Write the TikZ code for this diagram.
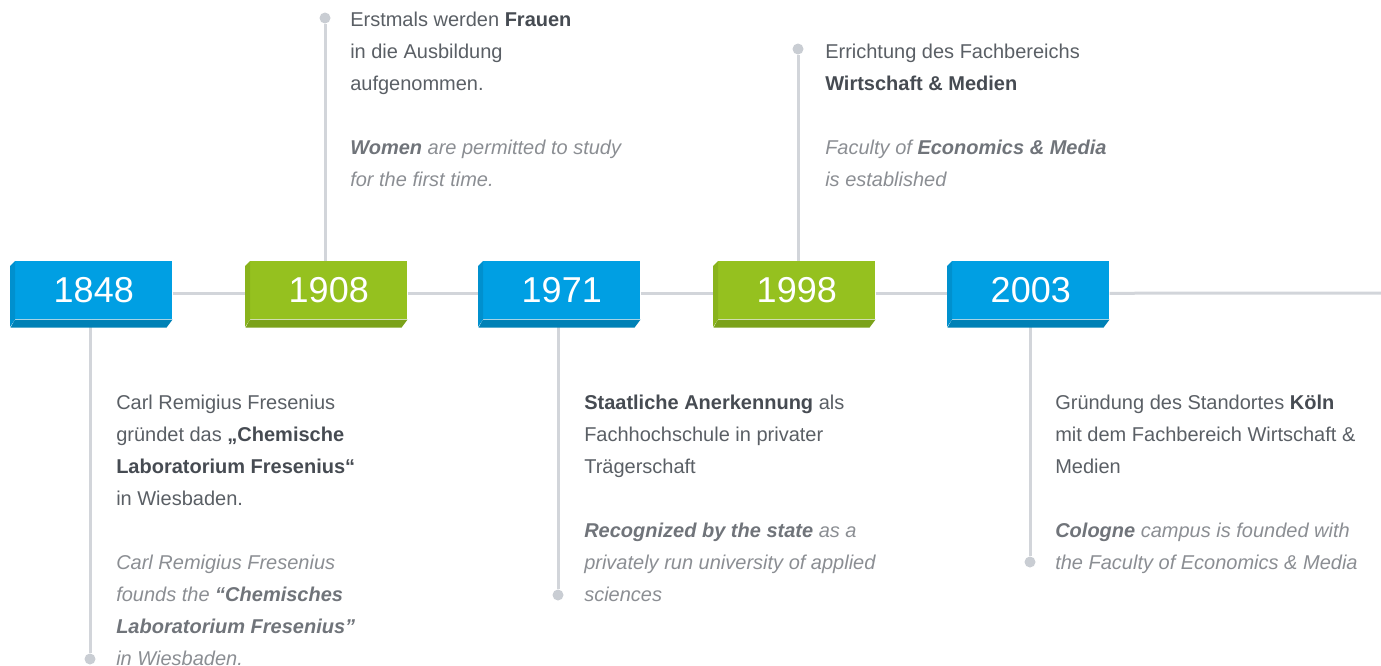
\documentclass[tikz,border=0pt]{standalone}
\usepackage{fontspec}
\setmainfont{Liberation Sans}
\usetikzlibrary{backgrounds}
\definecolor{bluefront}{HTML}{009FE3}
\definecolor{blueleft}{HTML}{0090CE}
\definecolor{bluebot}{HTML}{0081B6}
\definecolor{greenfront}{HTML}{95C11F}
\definecolor{greenleft}{HTML}{89B31C}
\definecolor{greenbot}{HTML}{7BA21A}
\definecolor{linegray}{HTML}{D2D5DA}
\definecolor{dotgray}{HTML}{C9CDD3}
\definecolor{gertext}{HTML}{5A5F65}
\definecolor{gerbold}{HTML}{464B52}
\definecolor{engtext}{HTML}{8B8E93}
\definecolor{engbold}{HTML}{70747A}
\newcommand\gb[1]{{\bfseries\color{gerbold}#1}}
\newcommand\eb[1]{{\bfseries\color{engbold}#1}}
\tikzset{
  yearface/.style={rectangle, inner sep=0pt, minimum width=157*0.75pt, minimum height=58*0.75pt,
    text=white, font=\fontsize{27}{27}\selectfont, anchor=north west},
  ger/.style={anchor=base west, inner sep=0pt, text=gertext, font=\fontsize{15}{24}\selectfont},
  eng/.style={anchor=base west, inner sep=0pt, text=engtext, font=\fontsize{15}{24}\selectfont\itshape},
  tl/.style={draw=linegray, line width=3*0.75pt},
  dotnode/.style={circle, fill=dotgray, inner sep=0pt, minimum size=11*0.75pt},
}
\newcommand\yearbox[6]{%
  \node[yearface, fill=#3] (#1) at (#2+5,261) {\raisebox{0pt}{#6}};
  \begin{scope}[on background layer]
  \end{scope}
}
\newcommand\yearsides[3]{%
  \fill[#2] (#1.north west) -- ++(-5,5) -- ++(0,61) -- (#1.south west) -- cycle;
  \fill[#3] (#1.south west) -- (#1.south east) -- ++(-6,8) -- ++(-156,0) -- cycle;
}
\begin{document}
\begin{tikzpicture}[x=0.75pt,y=-0.75pt]
\useasboundingbox (0,0) rectangle (1381,665);
% year boxes (front faces)
\yearbox{y1848}{10}{bluefront}{}{}{1848}
\yearbox{y1908}{245}{greenfront}{}{}{1908}
\yearbox{y1971}{478}{bluefront}{}{}{1971}
\yearbox{y1998}{713}{greenfront}{}{}{1998}
\yearbox{y2003}{947}{bluefront}{}{}{2003}
\coordinate (tlend) at (1381,293);
% dots
\node[dotnode] (d1848) at (90,659) {};
\node[dotnode] (d1908) at (325,18) {};
\node[dotnode] (d1971) at (558,595) {};
\node[dotnode] (d1998) at (798,49) {};
\node[dotnode] (d2003) at (1030,562) {};
% timeline
\draw[tl] ([yshift=-3*0.75pt]y1848.east) -- ([yshift=-3*0.75pt]y1908.west);
\draw[tl] ([yshift=-3*0.75pt]y1908.east) -- ([yshift=-3*0.75pt]y1971.west);
\draw[tl] ([yshift=-3*0.75pt]y1971.east) -- ([yshift=-3*0.75pt]y1998.west);
\draw[tl] ([yshift=-3*0.75pt]y1998.east) -- ([yshift=-3*0.75pt]y2003.west);
\draw[tl] ([yshift=-3*0.75pt]y2003.east) -- (tlend);
% verticals
\draw[tl] (y1848.south -| d1848) -- (d1848);
\draw[tl] (y1908.north -| d1908) -- (d1908);
\draw[tl] (y1971.south -| d1971) -- (d1971);
\draw[tl] (y1998.north -| d1998) -- (d1998);
\draw[tl] (y2003.south -| d2003) -- (d2003);
% box sides
\yearsides{y1848}{blueleft}{bluebot}
\yearsides{y1908}{greenleft}{greenbot}
\yearsides{y1971}{blueleft}{bluebot}
\yearsides{y1998}{greenleft}{greenbot}
\yearsides{y2003}{blueleft}{bluebot}
% 1848 text
\node[ger] (a1) at (116,409) {Carl Remigius Fresenius};
\node[ger] (a2) at (116,441) {gründet das \gb{„Chemische}};
\node[ger] (a3) at (116,473) {\gb{Laboratorium Fresenius“}};
\node[ger] (a4) at (116,505) {in Wiesbaden.};
\node[eng] (a5) at (116,569) {Carl Remigius Fresenius};
\node[eng] (a6) at (116,601) {founds the \eb{“Chemisches}};
\node[eng] (a7) at (116,633) {\eb{Laboratorium Fresenius”}};
\node[eng] (a8) at (116,665) {in Wiesbaden.};
% 1908 text
\node[ger] (b1) at (350,26) {Erstmals werden \gb{Frauen}};
\node[ger] (b2) at (350,58) {in die Ausbildung};
\node[ger] (b3) at (350,90) {aufgenommen.};
\node[eng] (b4) at (350,154) {\eb{Women} are permitted to study};
\node[eng] (b5) at (350,186) {for the first time.};
% 1971 text
\node[ger] (c1) at (584,409) {\gb{Staatliche Anerkennung} als};
\node[ger] (c2) at (584,441) {Fachhochschule in privater};
\node[ger] (c3) at (584,473) {Trägerschaft};
\node[eng] (c4) at (584,537) {\eb{Recognized by the state} as a};
\node[eng] (c5) at (584,569) {privately run university of applied};
\node[eng] (c6) at (584,601) {sciences};
% 1998 text
\node[ger] (e1) at (825,58) {Errichtung des Fachbereichs};
\node[ger] (e2) at (825,90) {\gb{Wirtschaft \& Medien}};
\node[eng] (e3) at (825,154) {Faculty of \eb{Economics \& Media}};
\node[eng] (e4) at (825,186) {is established};
% 2003 text
\node[ger] (f1) at (1055,409) {Gründung des Standortes \gb{Köln}};
\node[ger] (f2) at (1055,441) {mit dem Fachbereich Wirtschaft \&};
\node[ger] (f3) at (1055,473) {Medien};
\node[eng] (f4) at (1055,537) {\eb{Cologne} campus is founded with};
\node[eng] (f5) at (1055,569) {the Faculty of Economics \& Media};
\end{tikzpicture}
\end{document}
